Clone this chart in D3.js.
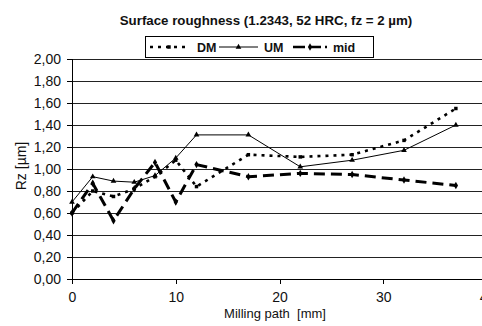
<!DOCTYPE html>
<html><head><meta charset="utf-8">
<script src="https://cdn.jsdelivr.net/npm/d3@7"></script>
<style>
html,body{margin:0;padding:0;background:#fff;overflow:hidden}
svg{display:block;font-family:Arial,"Liberation Sans",sans-serif}
</style></head>
<body>
<svg id="c" width="482" height="326"></svg>
<script>
const xValues = [0, 2, 4, 6, 8, 10, 12, 17, 22, 27, 32, 37];
const dmValues = [0.60, 0.80, 0.75, 0.82, 0.93, 1.08, 0.84, 1.13, 1.11, 1.13, 1.26, 1.55];
const umValues = [0.70, 0.93, 0.89, 0.88, 0.94, 1.10, 1.31, 1.31, 1.02, 1.08, 1.17, 1.40];
const midValues = [0.60, 0.87, 0.53, 0.82, 1.06, 0.70, 1.04, 0.93, 0.96, 0.95, 0.90, 0.85];
const yTicks = [0, 0.2, 0.4, 0.6, 0.8, 1.0, 1.2, 1.4, 1.6, 1.8, 2.0];
const xTicks = [0, 10, 20, 30, 40];
const seriesNames = ["DM", "UM", "mid"];

const svg = d3.select("#c");
const x = d3.scaleLinear().domain([0, 40]).range([72, 487]);
const y = d3.scaleLinear().domain([0, 2]).range([279, 59]);
const fmt = v => d3.format(".2f")(v).replace(".", ",");

// gridlines
svg.append("g").selectAll("line").data(yTicks.filter(d => d > 0)).join("line")
  .attr("x1", x(0)).attr("x2", 482).attr("y1", d => y(d)).attr("y2", d => y(d))
  .attr("stroke", "#222").attr("stroke-width", 1).attr("shape-rendering", "crispEdges");

// y axis
const ya = svg.append("g").attr("transform", `translate(${x(0)},0)`)
  .call(d3.axisLeft(y).tickValues(yTicks).tickFormat(fmt).tickSize(5).tickPadding(6));
ya.select(".domain").attr("stroke", "#000").attr("shape-rendering", "crispEdges").attr("d", `M-5,${y(2)}H0V${y(0)}`);
ya.selectAll(".tick line").attr("stroke", "#000").attr("shape-rendering", "crispEdges");
ya.selectAll("text").attr("font-size", 14).attr("fill", "#111").attr("font-family", "Arial, 'Liberation Sans'");

// x axis
const xa = svg.append("g").attr("transform", `translate(0,${y(0)})`)
  .call(d3.axisBottom(x).tickValues(xTicks).tickFormat(d3.format("d")).tickSize(5).tickPadding(8));
xa.select(".domain").attr("stroke", "#000").attr("shape-rendering", "crispEdges").attr("d", `M${x(0)},0H482`);
xa.selectAll(".tick line").attr("stroke", "#000").attr("shape-rendering", "crispEdges");
xa.selectAll("text").attr("font-size", 14).attr("fill", "#111").attr("font-family", "Arial, 'Liberation Sans'");

// axis titles
svg.append("text").attr("x", 275).attr("y", 318).attr("text-anchor", "middle")
  .attr("font-size", 13).attr("fill", "#111").attr("xml:space", "preserve").text("Milling path  [mm]");
svg.append("text").attr("transform", "translate(26,166) rotate(-90)").attr("text-anchor", "middle")
  .attr("font-size", 14).attr("fill", "#111").text("Rz [µm]");

// title
svg.append("text").attr("x", 266).attr("y", 25).attr("text-anchor", "middle")
  .attr("font-size", 13.3).attr("font-weight", "bold").attr("fill", "#111")
  .text("Surface roughness (1.2343, 52 HRC, fz = 2 µm)");

// series
const styles = {
  DM: {w: 2.6, dash: "3,5", marker: "sq"},
  UM: {w: 1, dash: null, marker: "tri"},
  mid: {w: 3, dash: "11,6", marker: "dia"}
};
const data = {DM: dmValues, UM: umValues, mid: midValues};
const line = d3.line().x(d => x(d[0])).y(d => y(d[1]));
const markerPath = {
  sq: d3.symbol().type(d3.symbolSquare).size(12)(),
  tri: d3.symbol().type(d3.symbolTriangle).size(14)(),
  dia: d3.symbol().type(d3.symbolDiamond).size(16)()
};
seriesNames.forEach(name => {
  const pts = xValues.map((xv, i) => [xv, data[name][i]]);
  const s = styles[name];
  svg.append("path").datum(pts).attr("d", line).attr("fill", "none")
    .attr("stroke", "#000").attr("stroke-width", s.w)
    .attr("stroke-dasharray", s.dash);
  svg.append("g").selectAll("path").data(pts).join("path")
    .attr("transform", d => `translate(${x(d[0])},${y(d[1])})`)
    .attr("d", markerPath[s.marker]).attr("fill", "#000");
});

// legend
const lg = svg.append("g");
lg.append("rect").attr("x", 145.5).attr("y", 36.5).attr("width", 228).attr("height", 21)
  .attr("fill", "#fff").attr("stroke", "#000").attr("stroke-width", 1);
const legendItems = [
  {name: "DM", x1: 150, x2: 188, tx: 197},
  {name: "UM", x1: 219, x2: 258, tx: 264},
  {name: "mid", x1: 293, x2: 327, tx: 333}
];
legendItems.forEach(it => {
  const s = styles[it.name];
  lg.append("line").attr("x1", it.x1).attr("x2", it.x2).attr("y1", 47).attr("y2", 47)
    .attr("stroke", "#000").attr("stroke-width", s.w === 1 ? 1 : 2.4)
    .attr("stroke-dasharray", s.dash ? (it.name === "DM" ? "3,5" : "12,4") : null);
  lg.append("path").attr("transform", `translate(${(it.x1 + it.x2) / 2},47)`)
    .attr("d", markerPath[s.marker]).attr("fill", "#000");
  lg.append("text").attr("x", it.tx).attr("y", 51.5).attr("font-size", 12.5)
    .attr("font-weight", "bold").attr("fill", "#111").text(it.name);
});
</script>
</body></html>
